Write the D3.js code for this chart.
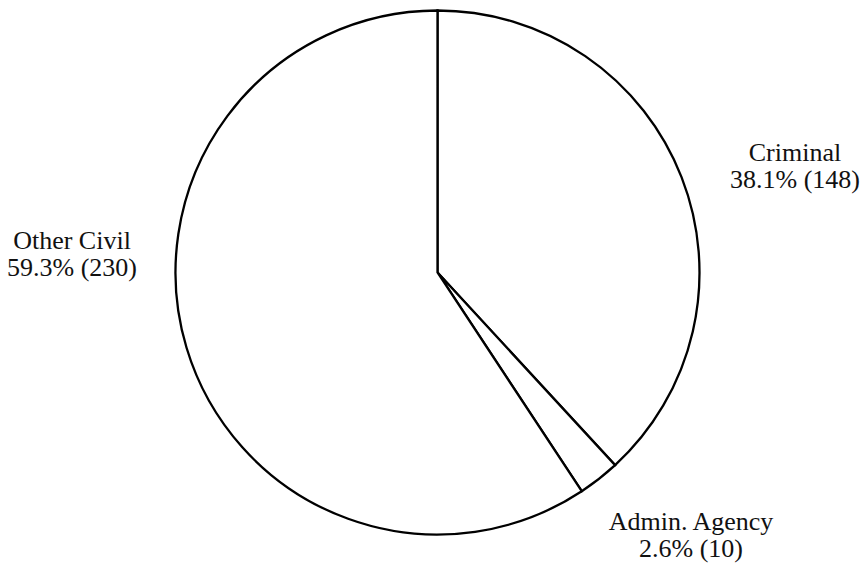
<!DOCTYPE html>
<html><head><meta charset="utf-8">
<script src="https://cdn.jsdelivr.net/npm/d3@7"></script>
<style>body{margin:0;background:#fff}</style>
</head><body>
<svg id="c" width="864" height="564"></svg>
<script>
const categories = ["Criminal", "Admin. Agency", "Other Civil"];
const counts = [148, 10, 230];
const percents = ["38.1%", "2.6%", "59.3%"];
const labelPos = [[795, 161], [691, 530], [72, 249]];

const svg = d3.select("#c");
const cx = 437.5, cy = 272.5, r = 262;
const g = svg.append("g").attr("transform", `translate(${cx},${cy})`);
const pie = d3.pie().sort(null).value(d => d)(counts);
const arc = d3.arc().innerRadius(0).outerRadius(r);
g.selectAll("path").data(pie).join("path")
  .attr("d", arc).attr("fill", "#fff").attr("stroke", "#000")
  .attr("stroke-width", 2.3).attr("stroke-linejoin", "miter");

const t = svg.selectAll("text.lab").data(categories).join("text")
  .attr("class", "lab")
  .attr("font-family", "Liberation Serif, Times New Roman, serif")
  .attr("font-size", 26).attr("fill", "#111").attr("text-anchor", "middle");
t.append("tspan").attr("x", (d, i) => labelPos[i][0]).attr("y", (d, i) => labelPos[i][1]).text(d => d);
t.append("tspan").attr("x", (d, i) => labelPos[i][0]).attr("dy", 27).text((d, i) => `${percents[i]} (${counts[i]})`);
</script>
</body></html>
